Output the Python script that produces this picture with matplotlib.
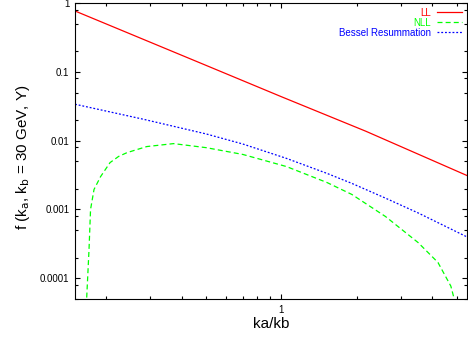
import matplotlib
matplotlib.use("Agg")
import matplotlib.pyplot as plt
from matplotlib.ticker import LogLocator, FuncFormatter, NullFormatter

plt.rcParams['font.family'] = ['Liberation Sans', 'DejaVu Sans']

# values (ka/kb, f)
ll_x = [0.15, 0.5, 1.0, 2.17, 5.5]
ll_y = [0.765, 0.124, 0.0434, 0.0137, 0.00311]

nll_x = [0.1664, 0.1706, 0.173, 0.1786, 0.1897, 0.207, 0.224, 0.242, 0.290, 0.371,
         0.501, 0.701, 1.047, 1.52, 1.91, 2.60, 3.51, 4.21, 4.74, 4.97]
nll_y = [4e-5, 2.63e-4, 1.0e-3, 1.95e-3, 3.0e-3, 4.8e-3, 5.9e-3, 6.7e-3, 8.2e-3, 9.05e-3,
         7.9e-3, 6.3e-3, 4.2e-3, 2.46e-3, 1.65e-3, 7.9e-4, 3.3e-4, 1.7e-4, 7.7e-5, 4e-5]

bessel_x = [0.15, 0.282, 0.501, 0.701, 1.047, 1.52, 1.91, 2.60, 3.51, 5.5]
bessel_y = [0.0338, 0.0204, 0.0125, 0.00893, 0.00552, 0.00334, 0.00239, 0.00146, 8.9e-4, 3.99e-4]

fig = plt.figure(figsize=(4.68, 3.39), dpi=100)
ax = fig.add_axes([0.1603, 0.118, 0.8376, 0.8732])

ax.plot(ll_x, ll_y, color='#ff0000', lw=0.9, label='LL')
ax.plot(nll_x, nll_y, color='#00ff00', lw=0.9, dashes=(4, 2.5), label='NLL')
ax.plot(bessel_x, bessel_y, color='#0000ff', lw=0.9, dashes=(1.5, 1.5), label='Bessel Resummation')

ax.set_xscale('log')
ax.set_yscale('log')
ax.set_xlim(0.15, 5.5)
ax.set_ylim(5e-5, 1)

ax.yaxis.set_major_locator(LogLocator(base=10))
ax.yaxis.set_minor_locator(LogLocator(base=10, subs=(2.0, 5.0, 8.0)))
ax.yaxis.set_major_formatter(FuncFormatter(lambda v, _: f'{v:g}'))
ax.yaxis.set_minor_formatter(NullFormatter())
ax.xaxis.set_major_formatter(FuncFormatter(lambda v, _: f'{v:g}'))
ax.xaxis.set_minor_formatter(NullFormatter())

ax.tick_params(which='both', direction='in', top=True, right=True, labelsize=7, width=0.8)
ax.tick_params(which='major', length=3.5, pad=4)
ax.tick_params(which='minor', length=2)
for s in ax.spines.values():
    s.set_linewidth(0.8)

ax.set_xlabel('ka/kb', fontsize=11)
ax.set_ylabel('f (k$_\\mathrm{a}$, k$_\\mathrm{b}$ = 30 GeV, Y)', fontsize=11)
ax.xaxis.set_label_coords(0.5, -0.062)
ax.yaxis.set_label_coords(-0.11, 0.48)

ax.legend(loc='upper right', markerfirst=False, labelcolor='linecolor', frameon=False,
          fontsize=7, handlelength=2.6, handletextpad=0.6, labelspacing=0.0,
          borderaxespad=0.2, borderpad=0.3)

fig.savefig('out.png', dpi=100)
